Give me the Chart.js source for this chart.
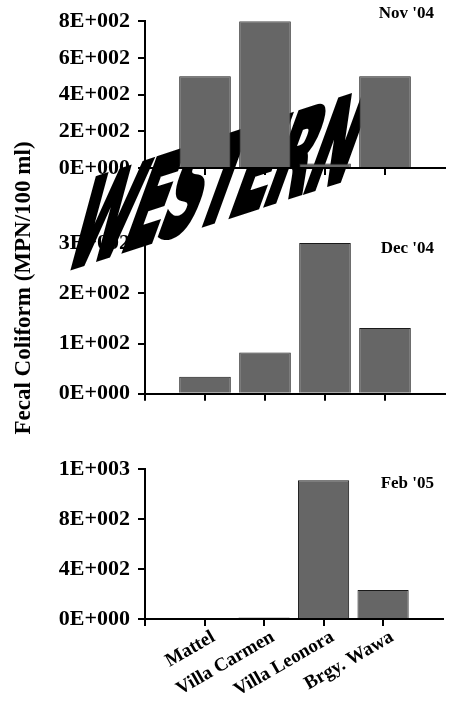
<!DOCTYPE html>
<html><head><meta charset="utf-8">
<script src="https://cdn.jsdelivr.net/npm/chart.js@4"></script>
<style>
html,body{margin:0;padding:0;background:#fff;}
body{width:454px;height:712px;position:relative;overflow:hidden;}
.c{position:absolute;left:0;width:454px;}
#w1{top:0;height:200px;z-index:3;}
#w2{top:215px;height:200px;z-index:1;}
#w3{top:440px;height:272px;z-index:1;}
#western{position:absolute;left:62px;top:182px;z-index:2;font-family:"DejaVu Sans";font-weight:bold;font-size:104px;line-height:104px;letter-spacing:-3px;white-space:nowrap;color:#000;-webkit-text-stroke:6px #000;transform-origin:0 88px;transform:rotate(-18deg) skewX(-38deg) scaleX(0.54);}
#ytitle{position:absolute;left:-127px;top:273px;width:300px;height:30px;line-height:30px;text-align:center;font-family:"Liberation Serif";font-weight:bold;font-size:23px;color:#000;transform:rotate(-90deg);white-space:nowrap;z-index:4;}
.month{position:absolute;right:20px;font-family:"Liberation Serif";font-weight:bold;font-size:17px;line-height:20px;color:#000;z-index:4;white-space:nowrap;}
</style>
</head><body>
<div class="c" id="w1"><canvas id="c1"></canvas></div>
<div class="c" id="w2"><canvas id="c2"></canvas></div>
<div class="c" id="w3"><canvas id="c3"></canvas></div>
<div id="western">WESTERN</div>
<div id="ytitle">Fecal Coliform (MPN/100 ml)</div>
<div class="month" id="m1" style="top:3px"></div>
<div class="month" id="m2" style="top:238px"></div>
<div class="month" id="m3" style="top:473px"></div>
<script>
const categories = ['Mattel', 'Villa Carmen', 'Villa Leonora', 'Brgy. Wawa'];
const nov04 = [500, 800, 25, 500];
const dec04 = [34, 82, 300, 131];
const feb05 = [0, 12, 1110, 232];
const novTicks = ['0E+000', '2E+002', '4E+002', '6E+002', '8E+002'];
const decTicks = ['0E+000', '1E+002', '2E+002', '3E+002'];
const febTicks = ['0E+000', '4E+002', '8E+002', '1E+003'];
const months = ["Nov '04", "Dec '04", "Feb '05"];

document.getElementById('m1').textContent = months[0];
document.getElementById('m2').textContent = months[1];
document.getElementById('m3').textContent = months[2];

function makeChart(id, values, yMax, yStep, yLabels, showCats, padTop, padBottom, xHeight) {
  return new Chart(document.getElementById(id), {
    type: 'bar',
    data: {
      labels: ['', ...categories, ''],
      datasets: [{
        data: [null, ...values, null],
        backgroundColor: '#666666',
        borderColor: '#1a1a1a',
        borderWidth: 1,
        categoryPercentage: 1,
        barPercentage: 0.86
      }]
    },
    options: {
      responsive: true,
      maintainAspectRatio: false,
      animation: false,
      layout: {padding: {top: padTop, bottom: padBottom, left: 0, right: 9}},
      plugins: {legend: {display: false}, tooltip: {enabled: false}},
      scales: {
        x: {
          offset: false,
          grid: {offset: false, drawOnChartArea: false, drawTicks: true, tickLength: 7, lineWidth: 2,
                 color: (c) => (c.index < categories.length + 1 ? '#000' : 'rgba(0,0,0,0)')},
          border: {display: true, color: '#000', width: 2},
          ticks: {display: showCats, autoSkip: false, minRotation: 30, maxRotation: 30, padding: 0,
                  labelOffset: 9,
                  color: '#000', font: {family: 'Liberation Serif', size: 19, weight: 'bold'}},
          afterFit: (s) => { s.height = xHeight; }
        },
        y: {
          min: 0, max: yMax,
          grid: {drawOnChartArea: false, drawTicks: true, tickLength: 7, lineWidth: 2, color: '#000'},
          border: {display: true, color: '#000', width: 2},
          ticks: {stepSize: yStep, padding: 8, color: '#000',
                  font: {family: 'Liberation Serif', size: 22, weight: 'bold'},
                  callback: (v, i) => yLabels[i]},
          afterFit: (s) => { s.width = 145; }
        }
      }
    }
  });
}

makeChart('c1', nov04, 800, 200, novTicks, false, 20, 22, 10);
makeChart('c2', dec04, 300, 100, decTicks, false, 28, 11, 10);
makeChart('c3', feb05, 1200, 400, febTicks, true, 29, 13, 80);
</script>
</body></html>
